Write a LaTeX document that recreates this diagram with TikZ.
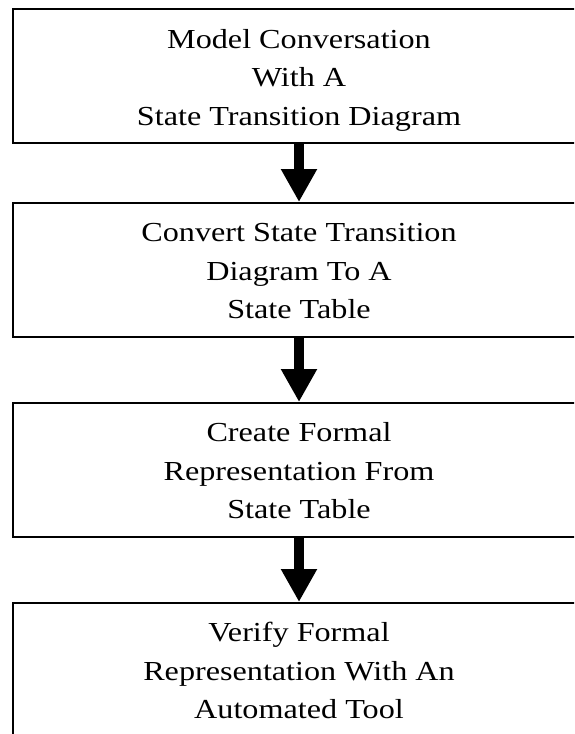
\documentclass[tikz,border=0pt]{standalone}
\usepackage{fontspec}
\setmainfont[FakeStretch=1.17]{Liberation Serif}
\usetikzlibrary{arrows.meta}

\tikzset{
  stagebox/.style={draw, line width=2pt, minimum width=572pt, minimum height=134pt,
                   inner sep=0pt, anchor=north},
  stagetext/.style={align=center, anchor=base, inner sep=0pt,
                    font=\fontsize{27.5pt}{38.3pt}\selectfont},
  flow/.style={line width=10pt, -{Triangle[length=33pt,width=34pt]}}
}

\begin{document}
\begin{tikzpicture}[x=1pt,y=-1pt]
  \useasboundingbox (0,0) rectangle (574,734);
  \clip (0,0) rectangle (574,734);

  % the four stages, top to bottom
  \node[stagebox] (b1) at (299,8)   {};
  \node[stagebox] (b2) at (299,202) {};
  \node[stagebox] (b3) at (299,402) {};
  \node[stagebox] (b4) at (299,602) {};

  % their texts, anchored on the last line's baseline
  \node[stagetext] (t1) at ([yshift=-117pt]b1.north) {Model Conversation\\With A\\State Transition Diagram};
  \node[stagetext] (t2) at ([yshift=-116.5pt]b2.north) {Convert State Transition\\Diagram To A\\State Table};
  \node[stagetext] (t3) at ([yshift=-116.5pt]b3.north) {Create Formal\\Representation From\\State Table};
  \node[stagetext] (t4) at ([yshift=-116.5pt]b4.north) {Verify Formal\\Representation With An\\Automated Tool};

  % arrows between the stages
  \draw[flow] (b1.south) -- (b2.north);
  \draw[flow] (b2.south) -- (b3.north);
  \draw[flow] (b3.south) -- (b4.north);
\end{tikzpicture}
\end{document}
